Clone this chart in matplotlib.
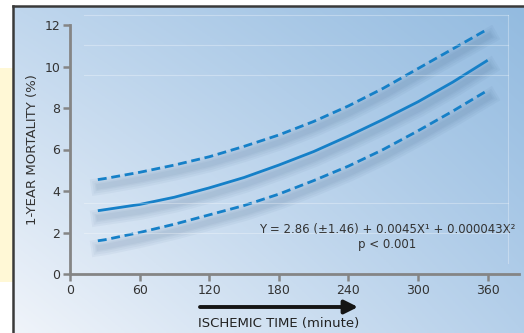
import numpy as np
import matplotlib.pyplot as plt
import matplotlib.patheffects as pe
from matplotlib.patches import Rectangle
from matplotlib.lines import Line2D

# values
minutes = [24, 30, 60, 90, 120, 150, 180, 210, 240, 270, 300, 330, 360]
mortality = [3.05, 3.1, 3.35, 3.7, 4.15, 4.65, 5.25, 5.9, 6.65, 7.45, 8.3, 9.25, 10.3]
upper_ci = [4.55, 4.6, 4.9, 5.25, 5.65, 6.15, 6.7, 7.35, 8.1, 8.95, 9.9, 10.85, 11.8]
lower_ci = [1.6, 1.65, 2.0, 2.4, 2.85, 3.3, 3.85, 4.5, 5.2, 6.0, 6.9, 7.85, 8.85]
xticks = [0, 60, 120, 180, 240, 300, 360]
yticks = [0, 2, 4, 6, 8, 10, 12]

W, H = 524, 333
fig = plt.figure(figsize=(W / 100, H / 100), dpi=100)
fig.patch.set_facecolor('white')

def fx(px):
    return px / W

def fy(py):
    return 1 - py / H

# yellow strip on the left
fig.patches.append(Rectangle((0, fy(282)), fx(13), fy(68) - fy(282),
                             transform=fig.transFigure, facecolor='#fff8d6',
                             edgecolor='none', zorder=0))

# gradient panel
bg = fig.add_axes([fx(13), 0, 1 - fx(13), fy(6)])
bg.set_axis_off()
tl = np.array([0xbf, 0xd6, 0xed]) / 255
tr = np.array([0x93, 0xbb, 0xe0]) / 255
bl = np.array([0xf0, 0xf4, 0xfa]) / 255
br = np.array([0xb4, 0xcf, 0xea]) / 255
u = np.linspace(0, 1, 200)[None, :, None]
v = np.linspace(0, 1, 120)[:, None, None]
img = (1 - v) * ((1 - u) * tl + u * tr) + v * ((1 - u) * bl + u * br)
bg.imshow(img, aspect='auto', extent=[0, 1, 0, 1])
bg.set_xlim(0, 1)
bg.set_ylim(0, 1)

# faint decorative lines
for py in [15, 45, 75, 203, 233]:
    fig.lines.append(Line2D([fx(84), fx(508)], [fy(py), fy(py)], transform=fig.transFigure,
                            color='white', alpha=0.3, lw=0.8, zorder=1))
fig.lines.append(Line2D([fx(508), fx(508)], [fy(15), fy(263)], transform=fig.transFigure,
                        color='white', alpha=0.3, lw=0.8, zorder=1))

# frame
fig.lines.append(Line2D([fx(13), 1], [fy(6), fy(6)], transform=fig.transFigure,
                        color='#3a3a3a', lw=1.8, zorder=5))
fig.lines.append(Line2D([fx(13), fx(13)], [0, fy(6)], transform=fig.transFigure,
                        color='#3a3a3a', lw=1.8, zorder=5))

ax = fig.add_axes([fx(70), fy(274), fx(519) - fx(70), fy(25) - fy(274)])
ax.patch.set_alpha(0)
ax.set_xlim(0, 387)
ax.set_ylim(0, 12)

# soft blurred shadow under each curve (drawn solid, shadow only)
shadow = [pe.SimpleLineShadow(offset=(1, -5), shadow_color='#35587f', alpha=0.05, linewidth=w)
          for w in (12, 9, 6, 4)]
blue = '#1580c8'
for series in (mortality, upper_ci, lower_ci):
    ax.plot(minutes, series, color=blue, lw=2.0, path_effects=shadow)

ax.plot(minutes, mortality, color=blue, lw=2.0, solid_capstyle='butt')
ax.plot(minutes, upper_ci, color=blue, lw=2.0, ls=(0, (3.2, 1.7)))
ax.plot(minutes, lower_ci, color=blue, lw=2.0, ls=(0, (3.2, 1.7)))

for s in ['top', 'right']:
    ax.spines[s].set_visible(False)
for s in ['left', 'bottom']:
    ax.spines[s].set_color('#858585')
    ax.spines[s].set_linewidth(2)
ax.set_xticks(xticks)
ax.set_yticks(yticks)
ax.tick_params(direction='out', length=5, width=1.8, color='#858585',
               labelsize=9, labelcolor='#333333', pad=2)

ax.text(273, 2.13, 'Y = 2.86 (±1.46) + 0.0045X¹ + 0.000043X²', ha='center', va='center',
        fontsize=8.5, color='#333333')
ax.text(273, 1.4, 'p < 0.001', ha='center', va='center', fontsize=8.5, color='#333333')

fig.text(fx(33), fy(150), '1-YEAR MORTALITY (%)', rotation=90, ha='center', va='center',
         fontsize=9.5, color='#333333')
fig.text(fx(279), fy(323), 'ISCHEMIC TIME (minute)', ha='center', va='center',
         fontsize=9.5, color='#222222')
ax.annotate('', xy=(358, H - 307), xytext=(200, H - 307), xycoords='figure pixels',
            textcoords='figure pixels',
            arrowprops=dict(arrowstyle='-|>', lw=2.8, color='#151515', mutation_scale=20,
                            shrinkA=0, shrinkB=0))

fig.savefig('out.png', dpi=100)
